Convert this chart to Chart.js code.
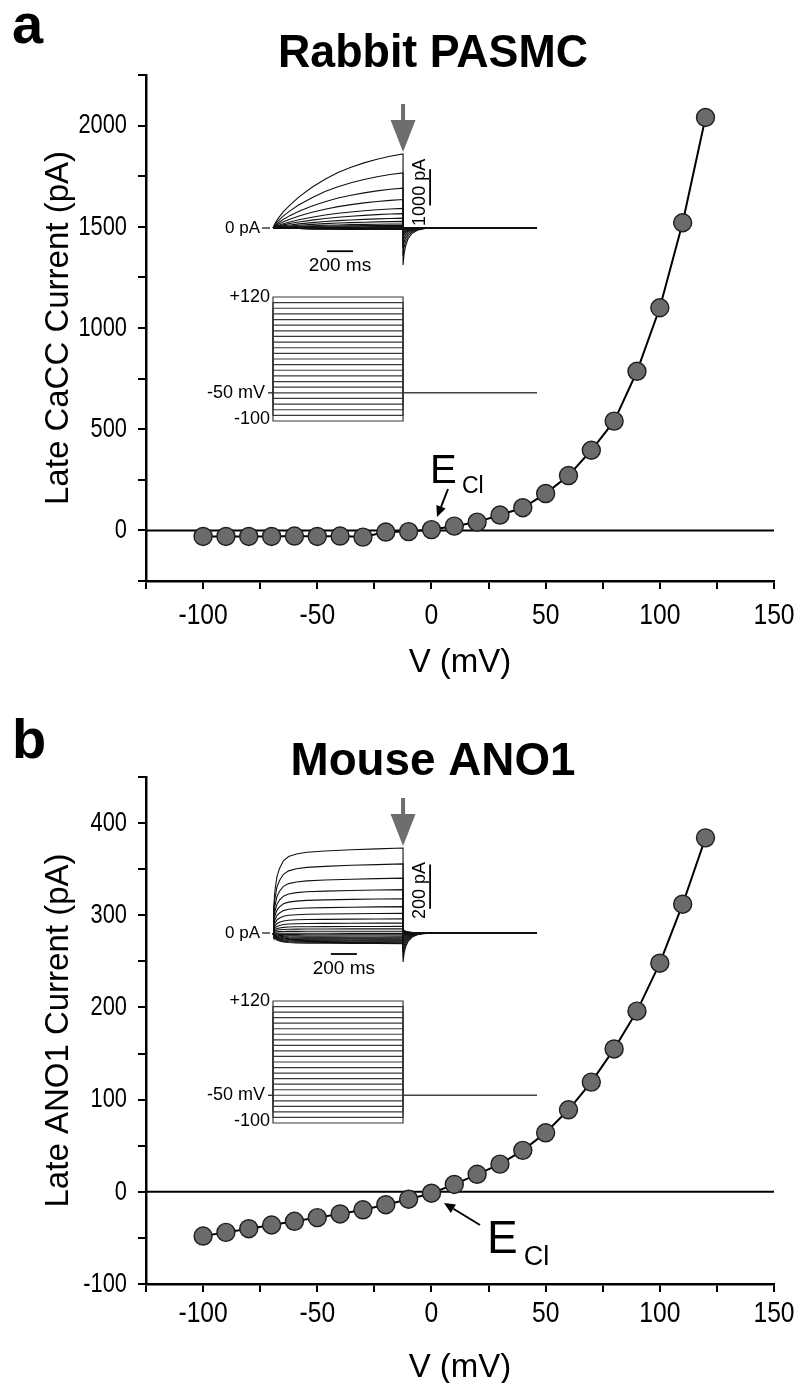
<!DOCTYPE html>
<html><head><meta charset="utf-8">
<script src="https://cdn.jsdelivr.net/npm/chart.js@4.4.1/dist/chart.umd.min.js"></script>
<style>
html,body{margin:0;padding:0;background:#fff;}
#wrap{position:relative;width:800px;height:1383px;overflow:hidden;background:#fff;}
canvas{position:absolute;}
</style></head><body>
<div id="wrap">
<canvas id="ca" style="left:0;top:0;width:800px;height:700px" width="800" height="700"></canvas>
<canvas id="cb" style="left:0;top:700px;width:800px;height:683px" width="800" height="683"></canvas>
<canvas id="ia" style="left:150px;top:88px;width:420px;height:352px" width="420" height="352"></canvas>
<canvas id="ib" style="left:150px;top:788px;width:420px;height:352px" width="420" height="352"></canvas>
</div>
<script>
// ---------------- DATA ----------------
const voltages = [-100,-90,-80,-70,-60,-50,-40,-30,-20,-10,0,10,20,30,40,50,60,70,80,90,100,110,120];
const rabbitCurrent = [-30,-30,-30,-30,-28,-30,-28,-33,-8,-6,4,21,41,76,112,182,271,396,540,786,1100,1520,2040];
const mouseCurrent = [-48,-44,-40,-36,-32,-28,-24,-19.5,-14,-8,-1.5,8,19,30,45,64,89,119,155,196,248,312,384];
const xTickLabels = [-100,-50,0,50,100,150];
const yTickLabelsA = [0,500,1000,1500,2000];
const yTickLabelsB = [-100,0,100,200,300,400];
// inset time courses (normalised)
const riseTimeA = [0,15,40,80,130,200,300,400,500,600,700,800,900,1000];
const riseFracA = [0,0.06,0.13,0.22,0.31,0.42,0.55,0.66,0.75,0.82,0.88,0.93,0.97,1];
const riseTimeB = [0,5,15,30,50,80,120,180,260,400,600,800,1000];
const riseFracB = [0,0.3,0.5,0.66,0.76,0.85,0.9,0.93,0.95,0.965,0.98,0.99,1];
const tailTime = [0,8,20,40,70,110,160,230];
const tailFrac = [1,0.7,0.48,0.28,0.14,0.06,0.02,0];
const holdingMV = -50;
const stepEndMS = 1000;
const sweepEndMS = 2030;

const FONT = "'Liberation Sans', Arial, Helvetica, sans-serif";

function txt(ctx, s, x, y, o) {
  ctx.save();
  ctx.font = o.font;
  ctx.fillStyle = o.color || '#000';
  ctx.textAlign = 'left';
  ctx.textBaseline = o.base || 'alphabetic';
  const w = ctx.measureText(s).width;
  const sx = o.width ? o.width / w : (o.sx || 1);
  ctx.translate(x, y);
  if (o.rot) ctx.rotate(o.rot);
  const ax = o.align === 'center' ? -w * sx / 2 : (o.align === 'right' ? -w * sx : 0);
  ctx.translate(ax, 0);
  ctx.scale(sx, 1);
  ctx.fillText(s, 0, 0);
  ctx.restore();
}
function arrow(ctx, x1, y1, x2, y2, color, lw, hl, hw) {
  const a = Math.atan2(y2 - y1, x2 - x1);
  ctx.save();
  ctx.strokeStyle = color; ctx.fillStyle = color; ctx.lineWidth = lw;
  const bx = x2 - hl * Math.cos(a), by = y2 - hl * Math.sin(a);
  ctx.beginPath(); ctx.moveTo(x1, y1); ctx.lineTo(bx, by); ctx.stroke();
  ctx.beginPath();
  ctx.moveTo(x2, y2);
  ctx.lineTo(bx + hw * Math.sin(a), by - hw * Math.cos(a));
  ctx.lineTo(bx - hw * Math.sin(a), by + hw * Math.cos(a));
  ctx.closePath(); ctx.fill();
  ctx.restore();
}

function mainChart(id, cfg) {
  const annot = {
    id: 'annot' + id,
    afterDraw(chart) {
      const ctx = chart.ctx, sx = chart.scales.x, sy = chart.scales.y;
      sx.ticks.forEach(t => {
        if (xTickLabels.includes(t.value))
          txt(ctx, String(t.value), sx.getPixelForValue(t.value), sx.top + cfg.xlabOff, {font: '29px ' + FONT, align: 'center', base: 'middle', sx: 0.85});
      });
      sy.ticks.forEach(t => {
        if (cfg.ylabels.includes(t.value))
          txt(ctx, String(t.value), sy.right - 19, sy.getPixelForValue(t.value), {font: '28px ' + FONT, align: 'right', base: 'middle', sx: 0.78});
      });
      txt(ctx, cfg.letter, 12, cfg.letterY, {font: 'bold 56px ' + FONT});
      txt(ctx, cfg.title, 433, cfg.titleY, {font: 'bold 46px ' + FONT, align: 'center', width: cfg.titleW});
      txt(ctx, cfg.ytitle, 68, (chart.chartArea.top + chart.chartArea.bottom) / 2, {font: '33px ' + FONT, align: 'center', rot: -Math.PI / 2});
      txt(ctx, 'V (mV)', 460, cfg.xtitleY, {font: '33px ' + FONT, align: 'center'});
      const e = cfg.ecl;
      txt(ctx, 'E', e.x, e.y, {font: e.size + 'px ' + FONT});
      txt(ctx, 'Cl', e.x + e.size * 0.8, e.y + e.size * 0.25, {font: Math.round(e.size * 0.58) + 'px ' + FONT});
      arrow(ctx, e.ax1, e.ay1, e.ax2, e.ay2, '#000', 2, 11, 5);
    }
  };
  return new Chart(document.getElementById(id), {
    type: 'scatter',
    data: {datasets: [
      {data: cfg.current.map((c, i) => ({x: voltages[i], y: c})), showLine: true, borderColor: '#000', borderWidth: 2,
       pointRadius: 9, pointBackgroundColor: '#6b6b6b', pointBorderColor: '#1e1e1e', pointBorderWidth: 1.4, order: 1, clip: false},
      {data: [{x: -125, y: 0}, {x: 150, y: 0}], showLine: true, borderColor: '#000', borderWidth: 2, pointRadius: 0, order: 2}
    ]},
    options: {
      responsive: false, animation: false, events: [],
      layout: {padding: {top: cfg.top, right: 26, left: 0, bottom: 0}},
      plugins: {legend: {display: false}, tooltip: {enabled: false}, title: {display: false}},
      scales: {
        x: {type: 'linear', min: -125, max: 150,
            ticks: {stepSize: 25, autoSkip: false, display: false},
            grid: {drawOnChartArea: false, tickLength: 8, color: '#000', lineWidth: 2},
            border: {color: '#000', width: 2.5},
            afterFit: s => { s.height = cfg.xh; s.paddingLeft = 0; s.paddingRight = 0; }},
        y: {type: 'linear', min: cfg.ymin, max: cfg.ymax,
            ticks: {stepSize: cfg.ystep, autoSkip: false, display: false},
            grid: {drawOnChartArea: false, tickLength: 8, color: '#000', lineWidth: 2},
            border: {color: '#000', width: 2.5},
            afterFit: s => { s.width = 146; s.paddingTop = 0; s.paddingBottom = 0; }}
      }
    },
    plugins: [annot]
  });
}

mainChart('ca', {
  current: rabbitCurrent, ymin: -250, ymax: 2250, ystep: 250, ylabels: yTickLabelsA,
  top: 75, xh: 119, xlabOff: 35,
  letter: 'a', letterY: 43, title: 'Rabbit PASMC', titleY: 67, titleW: 310,
  ytitle: 'Late CaCC Current (pA)', xtitleY: 672,
  ecl: {x: 430, y: 483, size: 40, ax1: 448, ay1: 489, ax2: 437, ay2: 517}
});
mainChart('cb', {
  current: mouseCurrent, ymin: -100, ymax: 450, ystep: 50, ylabels: yTickLabelsB,
  top: 77, xh: 99, xlabOff: 30,
  letter: 'b', letterY: 58, title: 'Mouse ANO1', titleY: 75, titleW: 285,
  ytitle: 'Late ANO1 Current (pA)', xtitleY: 677,
  ecl: {x: 487, y: 553, size: 46, ax1: 480, ay1: 525, ax2: 444, ay2: 503}
});

// ---------------- INSETS ----------------
function rangeFor(zeroPx, refVal, refPx, topPx, botPx, zeroVal) {
  const k = (zeroPx - refPx) / (refVal - zeroVal);
  return {min: zeroVal - (botPx - zeroPx) / k, max: zeroVal + (zeroPx - topPx) / k};
}
function insetChart(id, cfg) {
  const ds = [];
  cfg.current.forEach(amp => {
    const pts = [];
    cfg.riseT.forEach((t, j) => pts.push({x: t, y: amp * cfg.riseF[j]}));
    tailTime.forEach((t, j) => pts.push({x: stepEndMS + t, y: -amp * cfg.tailRatio * tailFrac[j]}));
    pts.push({x: sweepEndMS, y: 0});
    ds.push({data: pts, yAxisID: 'yi', showLine: true, borderColor: '#111', borderWidth: 1.1, pointRadius: 0, clip: false});
  });
  voltages.forEach(v => {
    ds.push({data: [{x: 0, y: holdingMV}, {x: 0, y: v}, {x: stepEndMS, y: v}, {x: stepEndMS, y: holdingMV}],
             yAxisID: 'yv', showLine: true, borderColor: '#3a3a3a', borderWidth: 1.2, pointRadius: 0, clip: false});
  });
  ds.push({data: [{x: stepEndMS, y: holdingMV}, {x: sweepEndMS, y: holdingMV}], yAxisID: 'yv', showLine: true,
           borderColor: '#444', borderWidth: 1.4, pointRadius: 0, clip: false});

  const deco = {
    id: 'deco' + id,
    afterDraw(chart) {
      const ctx = chart.ctx, X = chart.scales.x, YI = chart.scales.yi, YV = chart.scales.yv;
      const x0 = X.getPixelForValue(0), xEnd = X.getPixelForValue(stepEndMS);
      ctx.save();
      ctx.strokeStyle = '#222'; ctx.lineWidth = 1.3;
      const y0 = YI.getPixelForValue(0);
      ctx.beginPath(); ctx.moveTo(x0 - 11, y0); ctx.lineTo(x0 - 3, y0); ctx.stroke();
      txt(ctx, '0 pA', x0 - 13, y0, {font: '17px ' + FONT, align: 'right', base: 'middle'});
      const bx = X.getPixelForValue(cfg.barT);
      ctx.lineWidth = 1.8; ctx.strokeStyle = '#000';
      ctx.beginPath(); ctx.moveTo(bx, YI.getPixelForValue(cfg.barI0)); ctx.lineTo(bx, YI.getPixelForValue(cfg.barI0 + cfg.barI)); ctx.stroke();
      txt(ctx, cfg.barILabel, bx - 5, (YI.getPixelForValue(cfg.barI0) + YI.getPixelForValue(cfg.barI0 + cfg.barI)) / 2 + cfg.barTextShift,
          {font: '18px ' + FONT, align: 'center', rot: -Math.PI / 2});
      const ty = YI.getPixelForValue(cfg.msBarI);
      ctx.beginPath(); ctx.moveTo(X.getPixelForValue(cfg.msBarT0), ty); ctx.lineTo(X.getPixelForValue(cfg.msBarT0 + 200), ty); ctx.stroke();
      txt(ctx, '200 ms', X.getPixelForValue(cfg.msBarT0 + 100), ty + 20, {font: '19px ' + FONT, align: 'center'});
      const tip = YI.getPixelForValue(Math.max(...cfg.current)) - 2;
      ctx.fillStyle = '#6e6e6e'; ctx.strokeStyle = '#6e6e6e'; ctx.lineWidth = 4;
      ctx.beginPath(); ctx.moveTo(xEnd, tip - 48); ctx.lineTo(xEnd, tip - 25); ctx.stroke();
      ctx.beginPath(); ctx.moveTo(xEnd - 12.5, tip - 32); ctx.lineTo(xEnd + 12.5, tip - 32); ctx.lineTo(xEnd, tip); ctx.closePath(); ctx.fill();
      ctx.strokeStyle = '#222'; ctx.lineWidth = 1.3;
      const yh = YV.getPixelForValue(holdingMV);
      ctx.beginPath(); ctx.moveTo(x0 - 5, yh); ctx.lineTo(x0, yh); ctx.stroke();
      txt(ctx, '+120', x0 - 3, YV.getPixelForValue(120), {font: '18px ' + FONT, align: 'right', base: 'middle'});
      txt(ctx, '-50 mV', x0 - 8, yh, {font: '18px ' + FONT, align: 'right', base: 'middle'});
      txt(ctx, '-100', x0 - 3, YV.getPixelForValue(-100) - 2, {font: '18px ' + FONT, align: 'right', base: 'middle'});
      ctx.restore();
    }
  };
  return new Chart(document.getElementById(id), {
    type: 'scatter',
    data: {datasets: ds},
    options: {
      responsive: false, animation: false, events: [],
      layout: {padding: {left: 123, right: 33, top: 12, bottom: 10}},
      plugins: {legend: {display: false}, tooltip: {enabled: false}},
      scales: {
        x: {type: 'linear', display: false, min: 0, max: sweepEndMS},
        yi: {type: 'linear', display: false, min: cfg.yi.min, max: cfg.yi.max},
        yv: {type: 'linear', display: false, min: cfg.yv.min, max: cfg.yv.max}
      }
    },
    plugins: [deco]
  });
}
insetChart('ia', {
  current: rabbitCurrent, riseT: riseTimeA, riseF: riseFracA, tailRatio: 0.5,
  yi: rangeFor(228, Math.max(...rabbitCurrent), 154, 100, 430, 0),
  yv: rangeFor(421, 120, 297, 100, 430, -100),
  barT: 1208, barI0: 620, barI: 1000, barILabel: '1000 pA', barTextShift: 5,
  msBarT0: 415, msBarI: -640
});
insetChart('ib', {
  current: mouseCurrent, riseT: riseTimeB, riseF: riseFracB, tailRatio: 0.34,
  yi: rangeFor(933, Math.max(...mouseCurrent), 848, 800, 1130, 0),
  yv: rangeFor(1123, 120, 1001, 800, 1130, -100),
  barT: 1208, barI0: 110, barI: 200, barILabel: '200 pA', barTextShift: 4,
  msBarT0: 445, msBarI: -95
});
</script>
</body></html>
